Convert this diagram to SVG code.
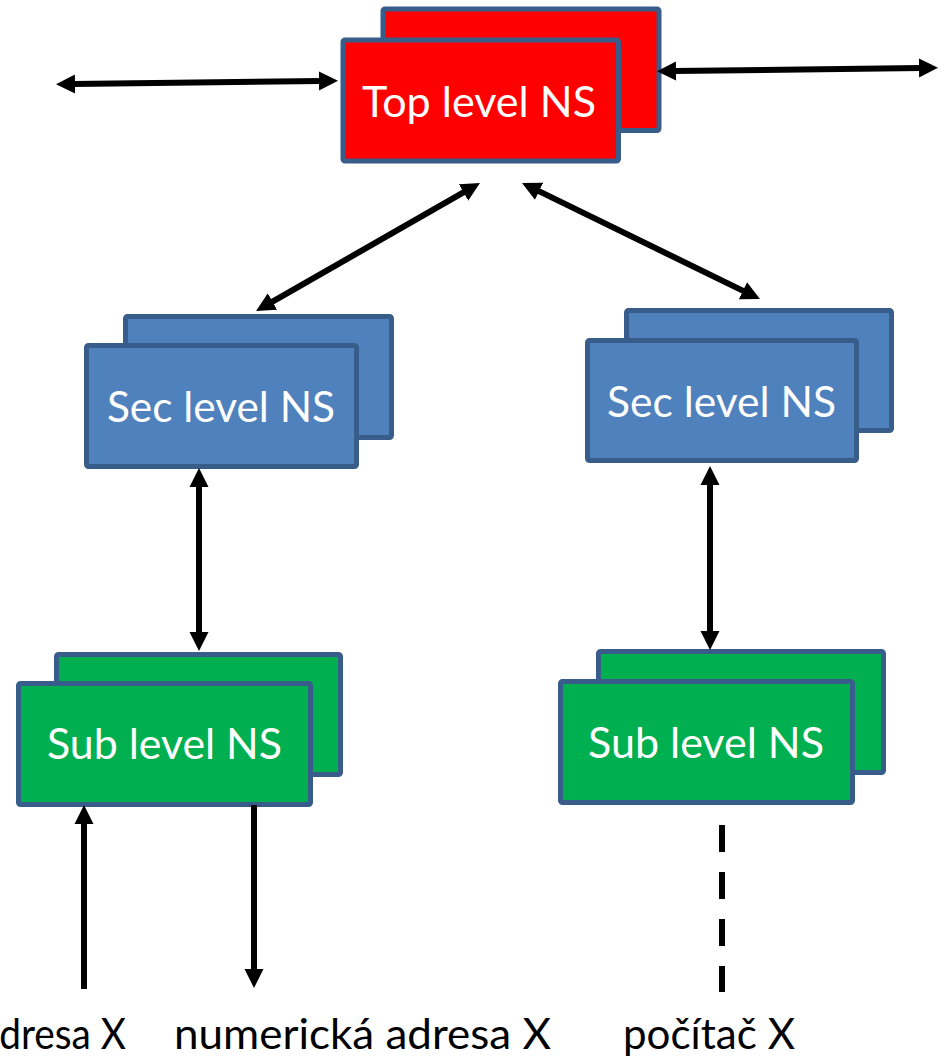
<svg xmlns="http://www.w3.org/2000/svg" width="944" height="1057" viewBox="0 0 944 1057">
  <style>
    .box { stroke: #385D8A; stroke-width: 5; stroke-linejoin: round; }
    .red { fill: #FF0000; }
    .blue { fill: #4F81BD; }
    .green { fill: #00B050; }
    .label { font-family: Lato, "Open Sans", "Liberation Sans", sans-serif; font-size: 42px; fill: #FFFFFF; }
    .caption { font-family: Lato, "Open Sans", "Liberation Sans", sans-serif; font-size: 42px; fill: #000000; }
    .link { stroke: #000000; stroke-width: 6; fill: none; }
    .dashed { stroke: #000000; stroke-width: 6; fill: none; stroke-dasharray: 27 20; }
  </style>
  <defs>
    <marker id="head" markerUnits="userSpaceOnUse" markerWidth="20" markerHeight="20" refX="2" refY="9.5" orient="auto-start-reverse" viewBox="0 0 20 19">
      <path d="M0,0 L19,9.5 L0,19 Z" fill="#000000"/>
    </marker>
  </defs>

  <rect width="944" height="1057" fill="#FFFFFF"/>

  <!-- top level name server -->
  <g id="top-ns">
    <rect class="box red" x="383" y="9" width="276" height="121.5" rx="2"/>
    <rect class="box red" x="343" y="40" width="275.5" height="121" rx="2"/>
    <text class="label" x="362" y="117" textLength="234" lengthAdjust="spacingAndGlyphs">Top level NS</text>
  </g>

  <!-- second level name servers -->
  <g id="sec-ns-left">
    <rect class="box blue" x="125.5" y="316.5" width="266" height="121" rx="2"/>
    <rect class="box blue" x="86.5" y="345.5" width="270" height="121" rx="2"/>
    <text class="label" x="107" y="422" textLength="228" lengthAdjust="spacingAndGlyphs">Sec level NS</text>
  </g>
  <g id="sec-ns-right">
    <rect class="box blue" x="626.5" y="310.5" width="265" height="120" rx="2"/>
    <rect class="box blue" x="587.5" y="340.5" width="269" height="120" rx="2"/>
    <text class="label" x="607" y="417" textLength="229" lengthAdjust="spacingAndGlyphs">Sec level NS</text>
  </g>

  <!-- sub level name servers -->
  <g id="sub-ns-left">
    <rect class="box green" x="56.5" y="654.5" width="284" height="120" rx="2"/>
    <rect class="box green" x="18.5" y="683.5" width="292" height="121" rx="2"/>
    <text class="label" x="47" y="759" textLength="235" lengthAdjust="spacingAndGlyphs">Sub level NS</text>
  </g>
  <g id="sub-ns-right">
    <rect class="box green" x="598.5" y="651.5" width="285" height="121" rx="2"/>
    <rect class="box green" x="560.5" y="681.5" width="292" height="121" rx="2"/>
    <text class="label" x="588" y="758" textLength="236" lengthAdjust="spacingAndGlyphs">Sub level NS</text>
  </g>

  <!-- connectors -->
  <g id="connectors">
    <line class="link" x1="73" y1="84" x2="321" y2="81" marker-start="url(#head)" marker-end="url(#head)"/>
    <line class="link" x1="674" y1="71" x2="921" y2="68" marker-start="url(#head)" marker-end="url(#head)"/>
    <line class="link" x1="465.2" y1="191.4" x2="270.8" y2="302.6" marker-start="url(#head)" marker-end="url(#head)"/>
    <line class="link" x1="537.3" y1="190.4" x2="744.7" y2="291.6" marker-start="url(#head)" marker-end="url(#head)"/>
    <line class="link" x1="199" y1="485" x2="199" y2="634" marker-start="url(#head)" marker-end="url(#head)"/>
    <line class="link" x1="710" y1="483" x2="710" y2="633" marker-start="url(#head)" marker-end="url(#head)"/>
    <line class="link" x1="84" y1="989" x2="84" y2="822" marker-end="url(#head)"/>
    <line class="link" x1="254" y1="805" x2="254" y2="971" marker-end="url(#head)"/>
    <line class="dashed" x1="722" y1="825" x2="722" y2="992"/>
  </g>

  <!-- captions -->
  <g id="captions">
    <text class="caption" x="-20" y="1049" textLength="146" lengthAdjust="spacingAndGlyphs">adresa X</text>
    <text class="caption" x="174" y="1049" textLength="377" lengthAdjust="spacingAndGlyphs">numerická adresa X</text>
    <text class="caption" x="623" y="1049" textLength="172" lengthAdjust="spacingAndGlyphs">počítač X</text>
  </g>
</svg>
